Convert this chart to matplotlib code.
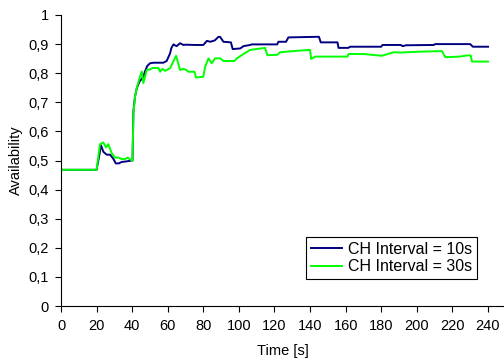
import matplotlib
matplotlib.use("Agg")
from matplotlib import pyplot as plt
from matplotlib.ticker import FuncFormatter

# Availability over time for two cluster-head intervals
t_10s = [0, 20.0, 21.0, 22.5, 23.8, 25.7, 27.6, 29.4, 30.8, 32.5,
         34.1, 36.9, 39.8, 40.2, 40.7, 41.6, 42.6, 44.0, 45.0, 46.3,
         47.2, 48.5, 50.0, 52.0, 57.5, 59.4, 61.3, 62.0, 63.2, 64.0,
         65.0, 66.9, 68.8, 70.0, 75.0, 80.0, 82.0, 84.0, 86.5, 88.5,
         89.4, 91.3, 95.5, 96.5, 100.7, 102.6, 106.3, 107.2, 108.5, 121.5,
         122.2, 126.5, 127.8, 143.8, 145.0, 146.0, 155.4, 156.0, 161.5, 162.5,
         180.0, 180.7, 191.0, 192.0, 194.0, 209.5, 210.3, 230.0, 231.5, 240.0]
avail_10s = [0.468, 0.468, 0.50, 0.552, 0.53, 0.52, 0.52, 0.506, 0.49, 0.49,
             0.495, 0.497, 0.50, 0.50, 0.67, 0.72, 0.748, 0.77, 0.778, 0.788,
             0.806, 0.825, 0.834, 0.836, 0.836, 0.842, 0.868, 0.886, 0.899, 0.896,
             0.893, 0.903, 0.897, 0.898, 0.897, 0.897, 0.911, 0.908, 0.913, 0.925,
             0.925, 0.908, 0.906, 0.883, 0.885, 0.893, 0.897, 0.899, 0.899, 0.899,
             0.908, 0.908, 0.923, 0.925, 0.925, 0.906, 0.906, 0.887, 0.887, 0.891,
             0.891, 0.897, 0.897, 0.893, 0.896, 0.897, 0.900, 0.900, 0.891, 0.891]

t_30s = [0, 20.0, 21.9, 23.8, 25.3, 26.6, 28.5, 30.4, 32.5, 34.1,
         36.0, 37.5, 39.8, 40.2, 40.7, 41.6, 42.6, 44.0, 45.4, 46.3,
         48.2, 50.0, 51.5, 54.7, 55.7, 57.0, 58.5, 60.5, 61.3, 64.7,
         66.9, 68.8, 70.2, 71.6, 75.0, 75.9, 80.0, 81.0, 82.9, 84.7,
         86.6, 89.5, 91.3, 97.5, 98.8, 102.6, 106.3, 114.7, 116.0, 121.5,
         123.2, 132.6, 140.0, 140.6, 142.9, 150.0, 161.0, 161.6, 170.0, 176.6,
         180.4, 186.9, 191.0, 194.0, 201.9, 214.1, 216.0, 224.0, 228.2, 230.3,
         231.0, 240.0]
avail_30s = [0.468, 0.468, 0.556, 0.562, 0.545, 0.556, 0.525, 0.51, 0.51, 0.505,
             0.505, 0.51, 0.50, 0.50, 0.66, 0.72, 0.75, 0.78, 0.806, 0.766,
             0.811, 0.813, 0.818, 0.818, 0.805, 0.815, 0.808, 0.815, 0.817, 0.86,
             0.811, 0.815, 0.812, 0.805, 0.805, 0.785, 0.788, 0.822, 0.851, 0.834,
             0.851, 0.851, 0.842, 0.842, 0.851, 0.866, 0.880, 0.887, 0.862, 0.863,
             0.872, 0.877, 0.880, 0.849, 0.857, 0.857, 0.857, 0.866, 0.866, 0.862,
             0.86, 0.872, 0.871, 0.872, 0.874, 0.876, 0.855, 0.857, 0.861, 0.861,
             0.84, 0.84]

x_ticks = list(range(0, 241, 20))
y_ticks = [i / 10 for i in range(11)]

plt.rcParams['font.family'] = ['Liberation Sans', 'DejaVu Sans']
plt.rcParams['font.size'] = 10.5

fig = plt.figure(figsize=(5.04, 3.62), dpi=100)
ax = fig.add_axes([61 / 504, 56 / 362, 443 / 504, 291 / 362])

ax.plot(t_10s, avail_10s, color="#000080", lw=1.4, label="CH Interval = 10s")
ax.plot(t_30s, avail_30s, color="#00ff00", lw=1.4, label="CH Interval = 30s")

ax.set_xlim(0, 249)
ax.set_ylim(0, 1)
ax.set_xticks(x_ticks)
ax.set_yticks(y_ticks)
ax.yaxis.set_major_formatter(FuncFormatter(lambda v, _: "0" if v == 0 else ("1" if v == 1 else f"{v:.1f}".replace(".", ","))))
ax.tick_params(direction="out", length=4, width=0.8, color="black", pad=5)

for side in ("top", "right"):
    ax.spines[side].set_visible(False)
for side in ("left", "bottom"):
    ax.spines[side].set_linewidth(0.8)

ax.set_xlabel("Time [s]", labelpad=8)
ax.set_ylabel("Availability", labelpad=4)

leg = ax.legend(loc="lower right", bbox_to_anchor=(0.939, 0.093),
                fancybox=False, framealpha=1, edgecolor="black",
                handlelength=2.0, borderpad=0.3, borderaxespad=0,
                labelspacing=0.15, handletextpad=0.35, fontsize=11.5)
leg.get_frame().set_linewidth(0.8)

fig.savefig("out.png", dpi=100)
